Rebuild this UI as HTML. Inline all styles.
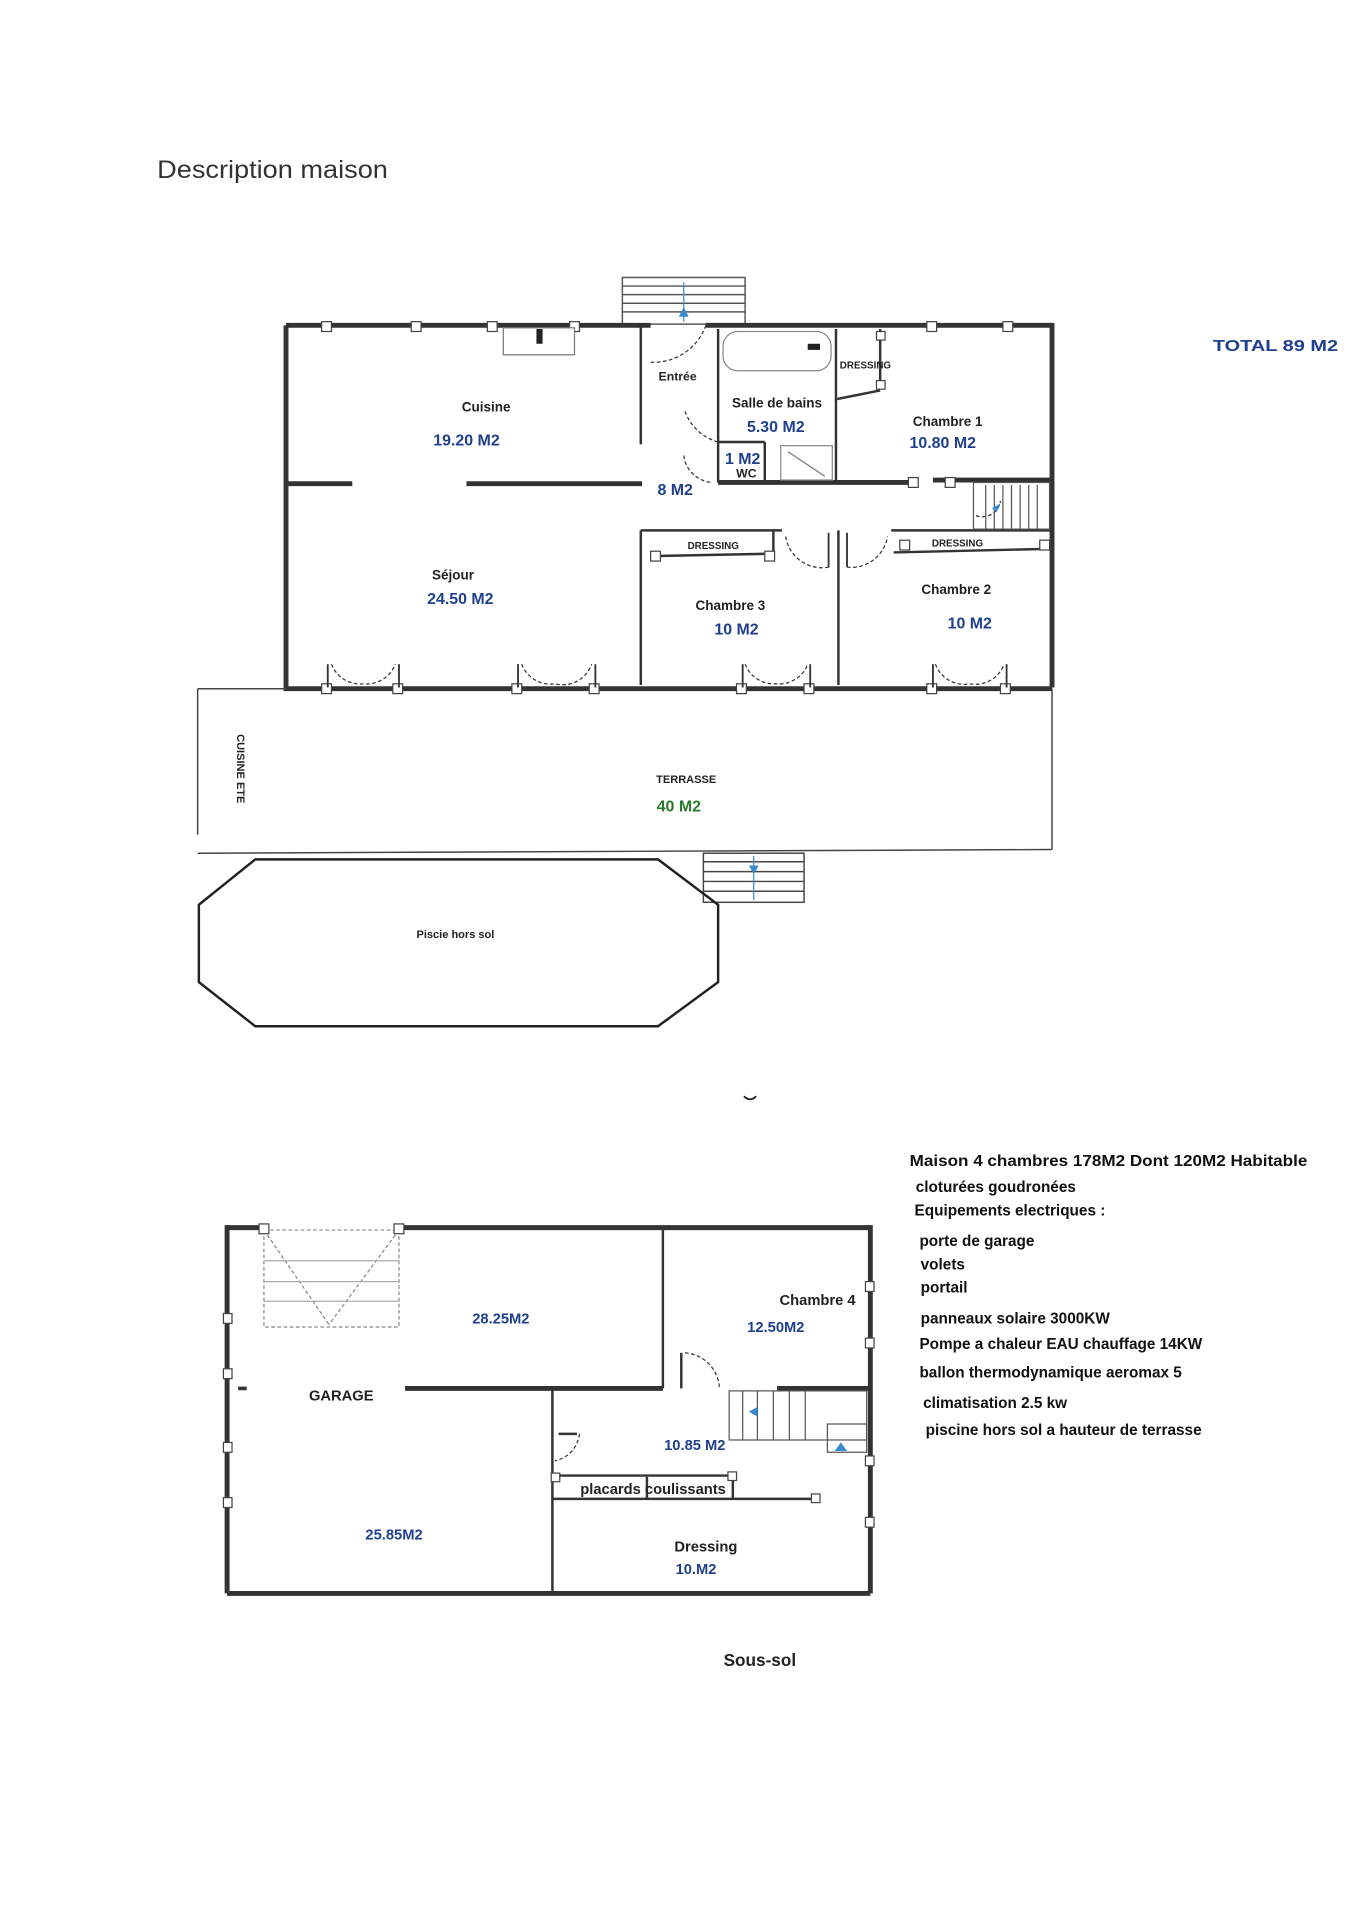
<!DOCTYPE html>
<html><head><meta charset="utf-8"><style>html,body{margin:0;padding:0;background:#fff}svg{display:block}</style></head>
<body>
<svg width="1354" height="1920" viewBox="0 0 1103 1564" xmlns="http://www.w3.org/2000/svg" font-family="Liberation Sans, sans-serif">
<rect width="1103" height="1564" fill="#fff"/>
<text x="128" y="145" font-size="20.5" fill="#333" textLength="188" lengthAdjust="spacingAndGlyphs">Description maison</text>
<text x="988" y="286" font-size="13" font-weight="bold" fill="#1f3f8f" textLength="102" lengthAdjust="spacingAndGlyphs">TOTAL 89 M2</text>

<!-- entrance stairs -->
<g stroke="#555" stroke-width="1.2" fill="none">
<rect x="507" y="226" width="100" height="38"/>
<line x1="507" y1="233" x2="607" y2="233"/><line x1="507" y1="240" x2="607" y2="240"/><line x1="507" y1="247" x2="607" y2="247"/><line x1="507" y1="254" x2="607" y2="254"/>
</g>
<line x1="557" y1="230" x2="557" y2="262" stroke="#3a8ad0"/><path d="M553,258 L557,250 L561,258Z" fill="#3a8ad0"/>

<!-- main walls -->
<g stroke="#333" stroke-width="4" fill="none">
<line x1="233" y1="265" x2="233" y2="563"/>
<line x1="857" y1="263" x2="857" y2="560"/>
<line x1="233" y1="265" x2="530" y2="265"/>
<line x1="575" y1="265" x2="857" y2="265"/>
<line x1="233" y1="561" x2="857" y2="561"/>
<line x1="235" y1="394" x2="287" y2="394"/>
<line x1="380" y1="394" x2="523" y2="394"/>
<line x1="585" y1="393" x2="740" y2="393"/>
<line x1="760" y1="391" x2="857" y2="391"/>
</g>
<g stroke="#333" stroke-width="2" fill="none">
<line x1="522" y1="265" x2="522" y2="362"/>
<line x1="585" y1="268" x2="585" y2="393"/>
<line x1="681" y1="268" x2="681" y2="393"/>
<line x1="522" y1="432" x2="522" y2="558"/>
<line x1="522" y1="432" x2="637" y2="432"/>
<line x1="530" y1="453" x2="630" y2="451"/>
<line x1="630" y1="432" x2="630" y2="453"/>
<line x1="683" y1="432" x2="683" y2="558"/>
<line x1="726" y1="432" x2="857" y2="432"/>
<line x1="728" y1="450" x2="857" y2="447"/>
<line x1="717" y1="268" x2="717" y2="315"/>
<line x1="682" y1="325" x2="717" y2="318"/>
<line x1="585" y1="360" x2="623" y2="360"/>
<line x1="623" y1="360" x2="623" y2="393"/>
</g>
<!-- windows -->
<g fill="#fff" stroke="#444" stroke-width="1">
<rect x="262" y="262" width="8" height="8"/><rect x="335" y="262" width="8" height="8"/><rect x="397" y="262" width="8" height="8"/><rect x="464" y="262" width="8" height="8"/>
<rect x="755" y="262" width="8" height="8"/><rect x="817" y="262" width="8" height="8"/>
<rect x="262" y="557" width="8" height="8"/><rect x="320" y="557" width="8" height="8"/><rect x="417" y="557" width="8" height="8"/><rect x="480" y="557" width="8" height="8"/>
<rect x="600" y="557" width="8" height="8"/><rect x="655" y="557" width="8" height="8"/><rect x="755" y="557" width="8" height="8"/><rect x="815" y="557" width="8" height="8"/>
<rect x="714" y="270" width="7" height="7"/><rect x="714" y="310" width="7" height="7"/>
<rect x="530" y="449" width="8" height="8"/><rect x="623" y="449" width="8" height="8"/><rect x="733" y="440" width="8" height="8"/><rect x="847" y="440" width="8" height="8"/>
<rect x="740" y="389" width="8" height="8"/><rect x="770" y="389" width="8" height="8"/>
</g>
<!-- sink and bath -->
<rect x="410" y="267" width="58" height="22" fill="#fff" stroke="#777"/>
<rect x="437" y="268" width="5" height="12" fill="#222"/>
<rect x="589" y="270" width="88" height="32" rx="12" fill="#fff" stroke="#888"/>
<rect x="658" y="280" width="10" height="5" fill="#222"/>
<rect x="636" y="363" width="42" height="28" fill="#fff" stroke="#888"/>
<line x1="642" y1="368" x2="672" y2="388" stroke="#777"/>
<!-- doors -->
<g stroke="#333" stroke-width="1" stroke-dasharray="3,2" fill="none">
<path d="M530,295 A45,45 0 0 0 575,265"/>
<path d="M558,335 A40,40 0 0 0 585,360"/>
<path d="M557,371 A25,25 0 0 0 580,393"/>
<path d="M270,541 A25,25 0 0 0 296,557 A25,25 0 0 0 322,541"/>
<path d="M425,541 A25,25 0 0 0 452,557 A25,25 0 0 0 482,541"/>
<path d="M607,541 A25,25 0 0 0 632,557 A25,25 0 0 0 658,541"/>
<path d="M762,541 A25,25 0 0 0 790,557 A25,25 0 0 0 818,541"/>
<path d="M640,437 A30,30 0 0 0 675,462"/>
<path d="M690,462 A30,30 0 0 0 723,437"/>
<path d="M795,420 A15,15 0 0 0 815,408"/>
</g>
<g stroke="#333" stroke-width="1.5">
<line x1="267" y1="541" x2="267" y2="560"/><line x1="325" y1="541" x2="325" y2="560"/>
<line x1="422" y1="541" x2="422" y2="560"/><line x1="485" y1="541" x2="485" y2="560"/>
<line x1="605" y1="541" x2="605" y2="560"/><line x1="660" y1="541" x2="660" y2="560"/>
<line x1="760" y1="541" x2="760" y2="560"/><line x1="820" y1="541" x2="820" y2="560"/>
<line x1="675" y1="434" x2="675" y2="462"/><line x1="690" y1="434" x2="690" y2="462"/>
</g>
<!-- inner stairs -->
<g stroke="#555" stroke-width="1" fill="none">
<rect x="793" y="393" width="62" height="38"/>
<line x1="803" y1="395" x2="803" y2="431"/><line x1="810" y1="395" x2="810" y2="431"/><line x1="817" y1="395" x2="817" y2="431"/><line x1="824" y1="395" x2="824" y2="431"/><line x1="831" y1="395" x2="831" y2="431"/><line x1="838" y1="395" x2="838" y2="431"/><line x1="845" y1="395" x2="845" y2="431"/>
</g>
<path d="M808,414 L815,410 L812,417Z" fill="#3a8ad0"/>

<g font-weight="bold" text-anchor="middle">
<text x="396" y="335" font-size="11" fill="#222">Cuisine</text>
<text x="380" y="363" font-size="13" fill="#1f3f8f">19.20 M2</text>
<text x="552" y="310" font-size="10" fill="#222">Entrée</text>
<text x="633" y="332" font-size="11" fill="#222">Salle de bains</text>
<text x="632" y="352" font-size="13" fill="#1f3f8f">5.30 M2</text>
<text x="705" y="300" font-size="8" fill="#222">DRESSING</text>
<text x="772" y="347" font-size="11" fill="#222">Chambre 1</text>
<text x="768" y="365" font-size="13" fill="#1f3f8f">10.80 M2</text>
<text x="605" y="378" font-size="13" fill="#1f3f8f">1 M2</text>
<text x="608" y="389" font-size="10" fill="#222">WC</text>
<text x="550" y="403" font-size="13" fill="#1f3f8f">8 M2</text>
<text x="581" y="447" font-size="8" fill="#222">DRESSING</text>
<text x="780" y="445" font-size="8" fill="#222">DRESSING</text>
<text x="369" y="472" font-size="11" fill="#222">Séjour</text>
<text x="375" y="492" font-size="13" fill="#1f3f8f">24.50 M2</text>
<text x="595" y="497" font-size="11" fill="#222">Chambre 3</text>
<text x="600" y="517" font-size="13" fill="#1f3f8f">10 M2</text>
<text x="779" y="484" font-size="11" fill="#222">Chambre 2</text>
<text x="790" y="512" font-size="13" fill="#1f3f8f">10 M2</text>
</g>

<!-- terrace -->
<g stroke="#444" stroke-width="1.2" fill="none">
<line x1="161" y1="561" x2="233" y2="561"/>
<line x1="161" y1="561" x2="161" y2="680"/>
<line x1="857" y1="561" x2="857" y2="692"/>
<line x1="161" y1="695" x2="857" y2="692"/>
<rect x="573" y="695" width="82" height="40"/>
<line x1="573" y1="702" x2="655" y2="702"/><line x1="573" y1="710" x2="655" y2="710"/><line x1="573" y1="718" x2="655" y2="718"/><line x1="573" y1="726" x2="655" y2="726"/>
</g>
<line x1="614" y1="697" x2="614" y2="733" stroke="#3a8ad0"/><path d="M610,705 L614,712 L618,705Z" fill="#3a8ad0"/>
<text transform="translate(193,598) rotate(90)" font-size="9" font-weight="bold" fill="#222">CUISINE ETE</text>
<text x="559" y="638" font-size="9" font-weight="bold" text-anchor="middle" fill="#222">TERRASSE</text>
<text x="553" y="661" font-size="13" font-weight="bold" text-anchor="middle" fill="#2a7a2a">40 M2</text>
<polygon points="208,700 536,700 585,737 585,800 536,836 208,836 162,800 162,737" fill="none" stroke="#222" stroke-width="2"/>
<text x="371" y="764" font-size="9" font-weight="bold" text-anchor="middle" fill="#222">Piscie hors sol</text>
<path d="M606,893 Q611,898 616,893" stroke="#222" stroke-width="1.5" fill="none"/>

<!-- basement -->
<g stroke="#333" stroke-width="4" fill="none">
<line x1="185" y1="1000" x2="215" y2="1000"/>
<line x1="325" y1="1000" x2="709" y2="1000"/>
<line x1="709" y1="998" x2="709" y2="1298"/>
<line x1="185" y1="998" x2="185" y2="1298"/>
<line x1="185" y1="1298" x2="709" y2="1298"/>
<line x1="330" y1="1131" x2="540" y2="1131"/>
<line x1="633" y1="1131" x2="709" y2="1131"/>
</g>
<g stroke="#333" stroke-width="2" fill="none">
<line x1="540" y1="1002" x2="540" y2="1131"/>
<line x1="450" y1="1131" x2="450" y2="1298"/>
<line x1="450" y1="1221" x2="665" y2="1221"/>
<line x1="450" y1="1202" x2="597" y2="1202"/>
<line x1="597" y1="1202" x2="597" y2="1221"/>
<line x1="527" y1="1203" x2="527" y2="1221"/>
<line x1="555" y1="1102" x2="555" y2="1131"/>
<line x1="455" y1="1168" x2="470" y2="1168"/>
<line x1="194" y1="1131" x2="201" y2="1131" stroke-width="3"/>
</g>
<g stroke="#888" stroke-width="1" stroke-dasharray="3,2" fill="none">
<rect x="215" y="1002" width="110" height="79"/>
<line x1="215" y1="1002" x2="268" y2="1079"/><line x1="325" y1="1002" x2="268" y2="1079"/>
</g>
<g stroke="#aaa" stroke-width="1"><line x1="215" y1="1027" x2="325" y2="1027"/><line x1="215" y1="1044" x2="325" y2="1044"/><line x1="215" y1="1060" x2="325" y2="1060"/></g>
<g stroke="#333" stroke-width="1" stroke-dasharray="3,2" fill="none">
<path d="M558,1102 A30,30 0 0 1 586,1131"/>
<path d="M472,1168 A25,25 0 0 1 452,1190"/>
</g>
<g stroke="#555" stroke-width="1" fill="none">
<rect x="594" y="1133" width="112" height="40"/>
<line x1="605" y1="1133" x2="605" y2="1173"/><line x1="617" y1="1133" x2="617" y2="1173"/><line x1="630" y1="1133" x2="630" y2="1173"/><line x1="643" y1="1133" x2="643" y2="1173"/><line x1="656" y1="1133" x2="656" y2="1173"/>
<rect x="674" y="1160" width="32" height="23"/>
</g>
<path d="M610,1150 L617,1146 L617,1154Z" fill="#3a8ad0"/><path d="M680,1182 L685,1175 L690,1182Z" fill="#3a8ad0"/>
<g fill="#fff" stroke="#444" stroke-width="1">
<rect x="211" y="997" width="8" height="8"/><rect x="321" y="997" width="8" height="8"/>
<rect x="182" y="1070" width="7" height="8"/><rect x="182" y="1115" width="7" height="8"/><rect x="182" y="1175" width="7" height="8"/><rect x="182" y="1220" width="7" height="8"/>
<rect x="705" y="1044" width="7" height="8"/><rect x="705" y="1090" width="7" height="8"/><rect x="705" y="1186" width="7" height="8"/><rect x="705" y="1236" width="7" height="8"/>
<rect x="449" y="1200" width="7" height="7"/><rect x="593" y="1199" width="7" height="7"/><rect x="661" y="1217" width="7" height="7"/>
</g>
<g font-weight="bold" text-anchor="middle">
<text x="408" y="1078" font-size="12" fill="#1f3f8f">28.25M2</text>
<text x="666" y="1063" font-size="12" fill="#222">Chambre 4</text>
<text x="632" y="1085" font-size="12" fill="#1f3f8f">12.50M2</text>
<text x="278" y="1141" font-size="12" fill="#222">GARAGE</text>
<text x="566" y="1181" font-size="12" fill="#1f3f8f">10.85 M2</text>
<text x="532" y="1217" font-size="12" fill="#222">placards coulissants</text>
<text x="321" y="1254" font-size="12" fill="#1f3f8f">25.85M2</text>
<text x="575" y="1264" font-size="12" fill="#222">Dressing</text>
<text x="567" y="1282" font-size="12" fill="#1f3f8f">10.M2</text>
<text x="619" y="1357" font-size="14" fill="#222">Sous-sol</text>
</g>
<g font-size="12.5" font-weight="bold" fill="#111">
<text x="741" y="950" textLength="324" lengthAdjust="spacingAndGlyphs">Maison 4 chambres 178M2 Dont 120M2 Habitable</text>
<text x="746" y="971">cloturées goudronées</text>
<text x="745" y="990">Equipements electriques :</text>
<text x="749" y="1015">porte de garage</text>
<text x="750" y="1034">volets</text>
<text x="750" y="1053">portail</text>
<text x="750" y="1078">panneaux solaire 3000KW</text>
<text x="749" y="1099">Pompe a chaleur EAU chauffage 14KW</text>
<text x="749" y="1122">ballon thermodynamique aeromax 5</text>
<text x="752" y="1147">climatisation 2.5 kw</text>
<text x="754" y="1169">piscine hors sol a hauteur de terrasse</text>
</g>
</svg>
</body></html>
